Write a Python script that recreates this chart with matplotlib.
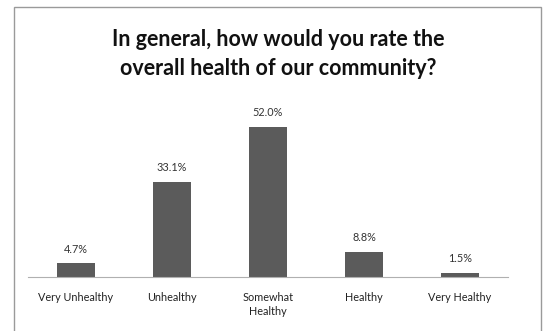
import matplotlib.pyplot as plt
from matplotlib.patches import Rectangle

categories = ["Very Unhealthy", "Unhealthy", "Somewhat\nHealthy", "Healthy", "Very Healthy"]
percent = [4.7, 33.1, 52.0, 8.8, 1.5]

plt.rcParams["font.family"] = ["Lato", "DejaVu Sans"]

fig = plt.figure(figsize=(5.53, 3.31), dpi=100)

# outer chart border
fig.patches.append(Rectangle((14 / 553, -0.05), 527 / 553, 1 - 7 / 331 + 0.05,
                             transform=fig.transFigure, fill=False,
                             edgecolor="#9a9a9a", linewidth=1.0))

ax = fig.add_axes([28 / 553, 1 - 277 / 331, 480 / 553, (277 - 110) / 331])
x = range(len(categories))
bars = ax.bar(x, percent, width=0.4, color="#5b5b5b")
ax.set_xlim(-0.5, len(categories) - 0.5)
ax.set_ylim(0, 57.9)

for b, v in zip(bars, percent):
    ax.text(b.get_x() + b.get_width() / 2, v + 3.0, f"{v:.1f}%",
            ha="center", va="bottom", fontsize=7.8, color="#333333")

ax.set_xticks(list(x))
ax.set_xticklabels(categories, fontsize=7.8, color="#222222", linespacing=1.25)
ax.tick_params(axis="x", length=0, pad=11)
ax.set_yticks([])
for s in ["top", "left", "right"]:
    ax.spines[s].set_visible(False)
ax.spines["bottom"].set_color("#b0b0b0")

fig.text(278 / 553, 1 - 54 / 331, "In general, how would you rate the\noverall health of our community?",
         ha="center", va="center", fontsize=15.5, fontweight="bold", color="#111111",
         linespacing=1.42)

fig.savefig("out.png", dpi=100)
